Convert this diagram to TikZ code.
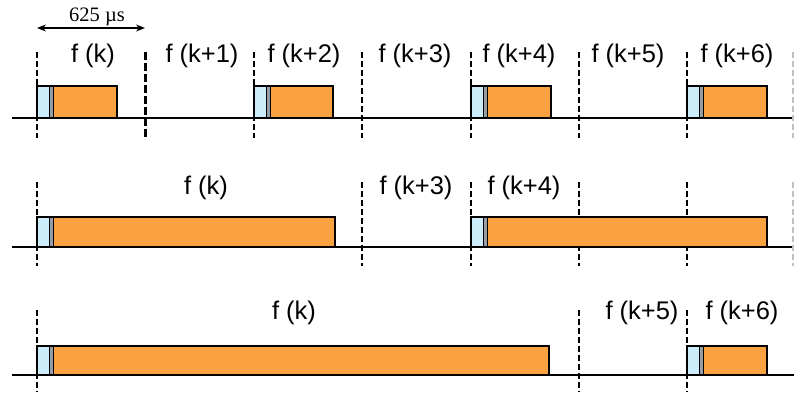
\documentclass[tikz,border=0pt]{standalone}
\usepackage{fontspec}
\setmainfont{Liberation Sans}
\newfontfamily\timesfont{Liberation Serif}
\usetikzlibrary{arrows.meta}

\definecolor{hdrblue}{RGB}{204,236,250}
\definecolor{hdrgray}{RGB}{150,158,165}
\definecolor{pldorange}{RGB}{250,162,66}

% packet: x start, x end, y top, y bottom
\newcommand{\slotpkt}[4]{%
  \fill[hdrblue] (#1,#3) rectangle (#1+12,#4);
  \fill[hdrgray] (#1+12,#3) rectangle (#1+16,#4);
  \fill[pldorange] (#1+16,#3) rectangle (#2,#4);
  \draw[line width=0.8pt] (#1+12,#3) -- (#1+12,#4) (#1+16,#3) -- (#1+16,#4);
  \draw[line width=2.2pt] (#1,#3) rectangle (#2,#4);
}

\begin{document}
\begin{tikzpicture}[x=1pt,y=-1pt,
  lbl/.style={font=\fontsize{25.5}{26}\selectfont, inner sep=0pt},
  slotline/.style={line width=1.5pt, dash pattern=on 6pt off 3pt},
  lastline/.style={slotline, black!25},
  baseline/.style={line width=1.6pt}]
\useasboundingbox (0,0) rectangle (794,392);

% time scale
\coordinate (tl) at (37,28);
\coordinate (tr) at (145,28);
\draw[line width=1.3pt, {Stealth[length=9pt,width=7pt]}-{Stealth[length=9pt,width=7pt]}] (tl) -- (tr);
\node[font=\timesfont\fontsize{20.5}{21}\selectfont, inner sep=0pt] (us) at (97,17) {625 µs};

% row 1
\draw[baseline] (12,118) -- (794,118);
\foreach \x in {37,254,362,471,579,687}
  \draw[slotline] (\x,52) -- (\x,138);
\draw[slotline, line width=3pt, dash pattern=on 8pt off 3pt] (145,52) -- (145,138);
\draw[lastline] (793,52) -- (793,138);
\slotpkt{37}{117}{86}{118}
\slotpkt{254}{333}{86}{118}
\slotpkt{471}{551}{86}{118}
\slotpkt{687}{767}{86}{118}
\node[lbl] (a0) at (93,56) {f (k)};
\node[lbl] (a1) at (202,56) {f (k+1)};
\node[lbl] (a2) at (304,56) {f (k+2)};
\node[lbl] (a3) at (415,56) {f (k+3)};
\node[lbl] (a4) at (519,56) {f (k+4)};
\node[lbl] (a5) at (628,56) {f (k+5)};
\node[lbl] (a6) at (737,56) {f (k+6)};

% row 2
\draw[baseline] (12,247) -- (794,247);
\foreach \x in {37,362,471,579,687}
  \draw[slotline] (\x,182) -- (\x,266);
\draw[lastline] (793,182) -- (793,266);
\slotpkt{37}{335}{217}{247}
\slotpkt{471}{767}{217}{247}
\node[lbl] (b0) at (206,188) {f (k)};
\node[lbl] (b3) at (416,188) {f (k+3)};
\node[lbl] (b4) at (524,188) {f (k+4)};

% row 3
\draw[baseline] (12,375) -- (37,375);
\draw[line width=2.4pt] (37,375) -- (794,375);
\foreach \x in {37,579,687}
  \draw[slotline] (\x,310) -- (\x,392);
\slotpkt{37}{549}{346}{375}
\slotpkt{687}{767}{346}{375}
\node[lbl] (c0) at (294,313) {f (k)};
\node[lbl] (c5) at (642,313) {f (k+5)};
\node[lbl] (c6) at (742,313) {f (k+6)};
\end{tikzpicture}
\end{document}
